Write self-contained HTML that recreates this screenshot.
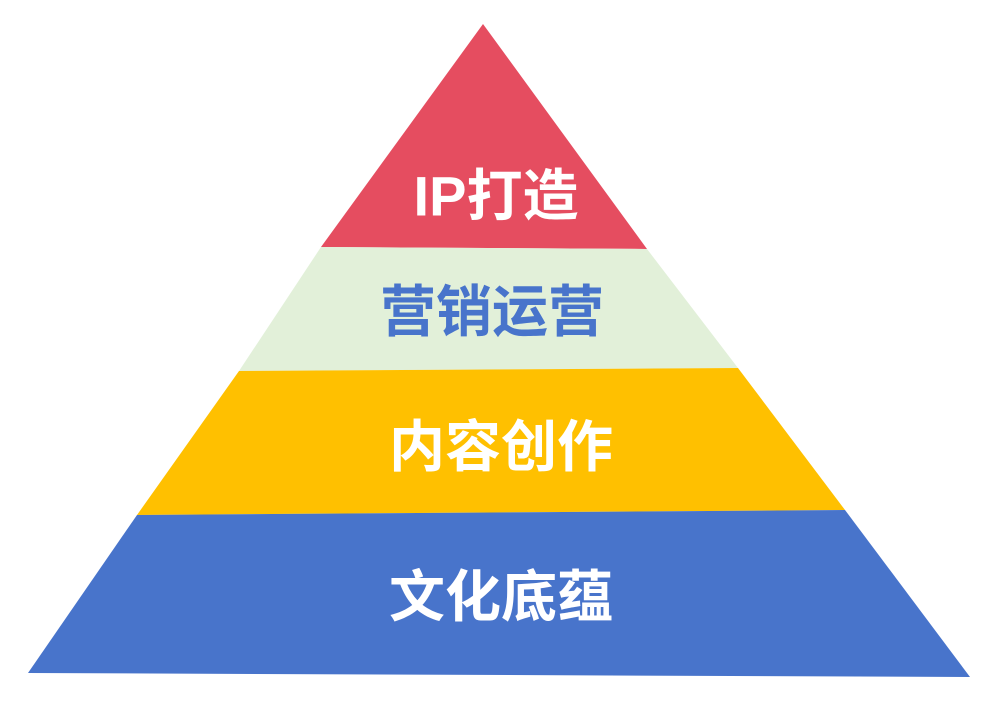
<!DOCTYPE html>
<html><head><meta charset="utf-8"><style>
html,body{margin:0;padding:0;background:#fff;}
svg{display:block;}
text{font-family:"Liberation Sans","Noto Sans CJK SC",sans-serif;font-weight:bold;font-size:56px;text-anchor:middle;dominant-baseline:central;}
</style></head><body>
<svg width="988" height="706" viewBox="0 0 988 706">
<polygon points="483,24 647,249 321,247" fill="#e54d60"/>
<polygon points="321,247 647,249 738,368 239,371" fill="#e2f0d9"/>
<polygon points="239,371 738,368 845,510 137,515" fill="#ffc000"/>
<polygon points="137,515 845,510 970,677 28,673" fill="#4874cb"/>
<text x="496" y="196" fill="#fff">IP打造</text>
<text x="492" y="312" fill="#4874cb">营销运营</text>
<text x="501" y="447" fill="#fff">内容创作</text>
<text x="501" y="597" fill="#fff">文化底蕴</text>
</svg>
</body></html>
